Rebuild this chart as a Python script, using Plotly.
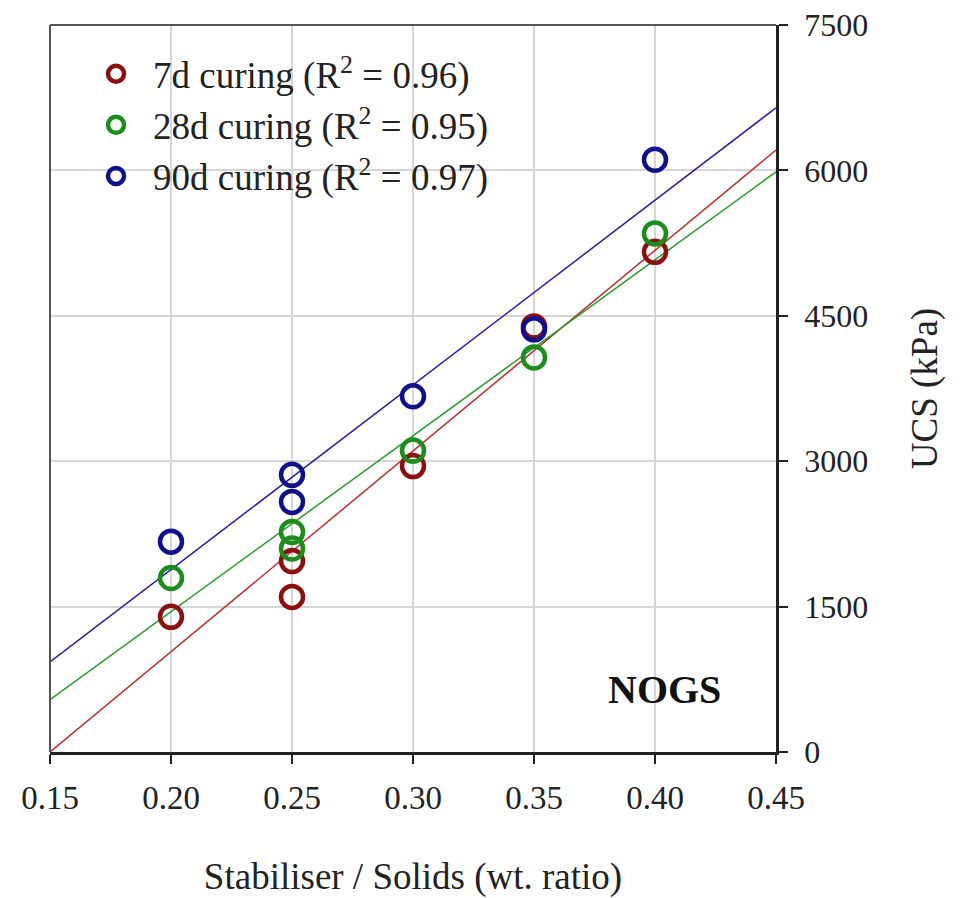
import plotly.graph_objects as go

# ---- data ----
x_7d = [0.20, 0.25, 0.25, 0.30, 0.35, 0.40]
y_7d = [1395, 1600, 1970, 2950, 4390, 5160]
x_28d = [0.20, 0.25, 0.25, 0.30, 0.35, 0.40]
y_28d = [1795, 2100, 2270, 3110, 4070, 5350]
x_90d = [0.20, 0.25, 0.25, 0.30, 0.35, 0.40]
y_90d = [2170, 2580, 2860, 3670, 4360, 6110]

fit_x = [0.15, 0.45]
fit_7d = [0, 6210]
fit_28d = [540, 5985]
fit_90d = [930, 6645]

names = ["7d curing (R<sup>2</sup> = 0.96)",
         "28d curing (R<sup>2</sup> = 0.95)",
         "90d curing (R<sup>2</sup> = 0.97)"]
x_ticks = [0.15, 0.20, 0.25, 0.30, 0.35, 0.40, 0.45]
x_ticklabels = ["0.15", "0.20", "0.25", "0.30", "0.35", "0.40", "0.45"]
y_ticks = [0, 1500, 3000, 4500, 6000, 7500]

marker_colors = ["#8b1010", "#1c8c1c", "#10108c"]
line_colors = ["#b83030", "#2a9a2a", "#20209a"]

FONT = "Liberation Serif, Times New Roman, serif"

fig = go.Figure()
fits = [fit_7d, fit_28d, fit_90d]
for fy, lc in zip(fits, line_colors):
    fig.add_trace(go.Scatter(x=fit_x, y=fy, mode="lines",
                             line=dict(color=lc, width=1.5),
                             showlegend=False, hoverinfo="skip"))

for i, (xs, ys) in enumerate([(x_7d, y_7d), (x_28d, y_28d), (x_90d, y_90d)]):
    fig.add_trace(go.Scatter(x=xs, y=ys, mode="markers", name=names[i],
                             marker=dict(symbol="circle-open", size=22,
                                         color=marker_colors[i],
                                         line=dict(width=4.5, color=marker_colors[i]))))

fig.add_annotation(x=0.404, y=640, xref="x", yref="y", text="<b>NOGS</b>",
                   showarrow=False, font=dict(family=FONT, size=40, color="#111"))

fig.update_layout(
    width=969, height=898,
    margin=dict(l=50, r=193, t=25, b=146),
    paper_bgcolor="white", plot_bgcolor="white",
    font=dict(family=FONT, size=34, color="#222"),
    legend=dict(x=0.04, y=0.975, xanchor="left", yanchor="top",
                bgcolor="rgba(0,0,0,0)", font=dict(family=FONT, size=37, color="#222"),
                itemwidth=64, tracegroupgap=0),
    xaxis=dict(range=[0.15, 0.45], tickvals=x_ticks, ticktext=x_ticklabels,
               automargin=False,
               showgrid=True, gridcolor="#d6d6d6", gridwidth=1.5,
               showline=True, linecolor="#222", linewidth=2.5, mirror=False,
               ticks="outside", ticklen=9, tickwidth=2, tickcolor="#222",
               ticklabelstandoff=6,
               tickfont=dict(family=FONT, size=33),
               title=dict(text="Stabiliser / Solids (wt. ratio)", standoff=56,
                          font=dict(family=FONT, size=37)),
               zeroline=False),
    yaxis=dict(range=[0, 7500], tickvals=y_ticks, side="right",
               automargin=False,
               showgrid=True, gridcolor="#d6d6d6", gridwidth=1.5,
               showline=True, linecolor="#222", linewidth=2.5,
               ticks="outside", ticklen=9, tickwidth=2, tickcolor="#222",
               ticklabelstandoff=10,
               tickfont=dict(family=FONT, size=32),
               title=dict(text="UCS (kPa)", standoff=44, font=dict(family=FONT, size=37)),
               zeroline=False),
)

# top and left frame lines
fig.add_shape(type="line", xref="paper", yref="paper", x0=0, x1=1, y0=1, y1=1,
              line=dict(color="#555", width=2))
fig.add_shape(type="line", xref="paper", yref="paper", x0=0, x1=0, y0=0, y1=1,
              line=dict(color="#555", width=2))

fig.write_html("out.html")
